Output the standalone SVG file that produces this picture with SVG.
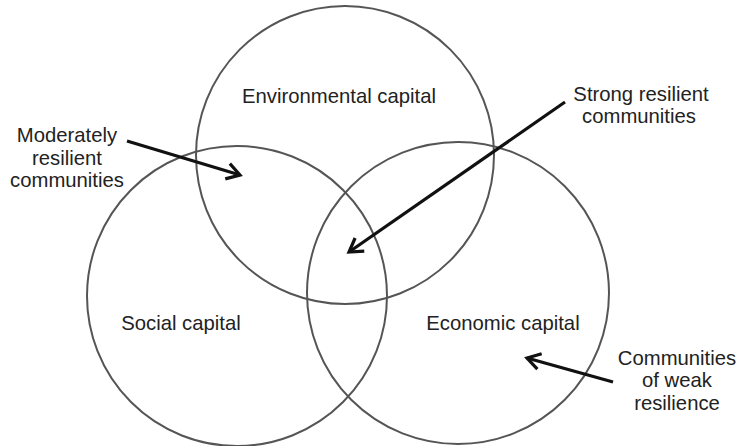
<svg xmlns="http://www.w3.org/2000/svg" width="740" height="446" viewBox="0 0 740 446">
<defs>
<style>
.circ{fill:none;stroke:#555;stroke-width:2}
.t{font-family:"Liberation Sans",Arial,sans-serif;font-size:20.3px;fill:#222;text-anchor:middle}
.arr{fill:none;stroke:#111;stroke-width:3.2;marker-end:url(#ah)}
</style>
<marker id="ah" markerUnits="userSpaceOnUse" markerWidth="30" markerHeight="30" viewBox="-15 -15 30 30" refX="0" refY="0" orient="auto">
<path d="M-13,-8 L0,0 L-13,8" fill="none" stroke="#111" stroke-width="3.2" stroke-linejoin="miter"/>
</marker>
</defs>
<rect width="740" height="446" fill="#fff"/>
<g id="environmental">
<circle class="circ" cx="345" cy="155" r="149"/>
<text class="t" x="339" y="103">Environmental capital</text>
</g>
<g id="social">
<circle class="circ" cx="237" cy="296" r="150"/>
<text class="t" x="181" y="330">Social capital</text>
</g>
<g id="economic">
<circle class="circ" cx="458" cy="293" r="151"/>
<text class="t" x="503" y="330">Economic capital</text>
</g>
<g id="moderate">
<text class="t" x="67" y="142">Moderately</text>
<text class="t" x="67" y="165">resilient</text>
<text class="t" x="67" y="187">communities</text>
</g>
<g id="strong">
<text class="t" x="641" y="101">Strong resilient</text>
<text class="t" x="639" y="123">communities</text>
</g>
<g id="weak">
<text class="t" x="677" y="365">Communities</text>
<text class="t" x="677" y="387">of weak</text>
<text class="t" x="677" y="410">resilience</text>
</g>
<g id="connectors">
<line class="arr" x1="127" y1="141" x2="240" y2="175"/>
<line class="arr" x1="565" y1="102" x2="349" y2="252"/>
<line class="arr" x1="613" y1="382" x2="527" y2="358"/>
</g>
</svg>
